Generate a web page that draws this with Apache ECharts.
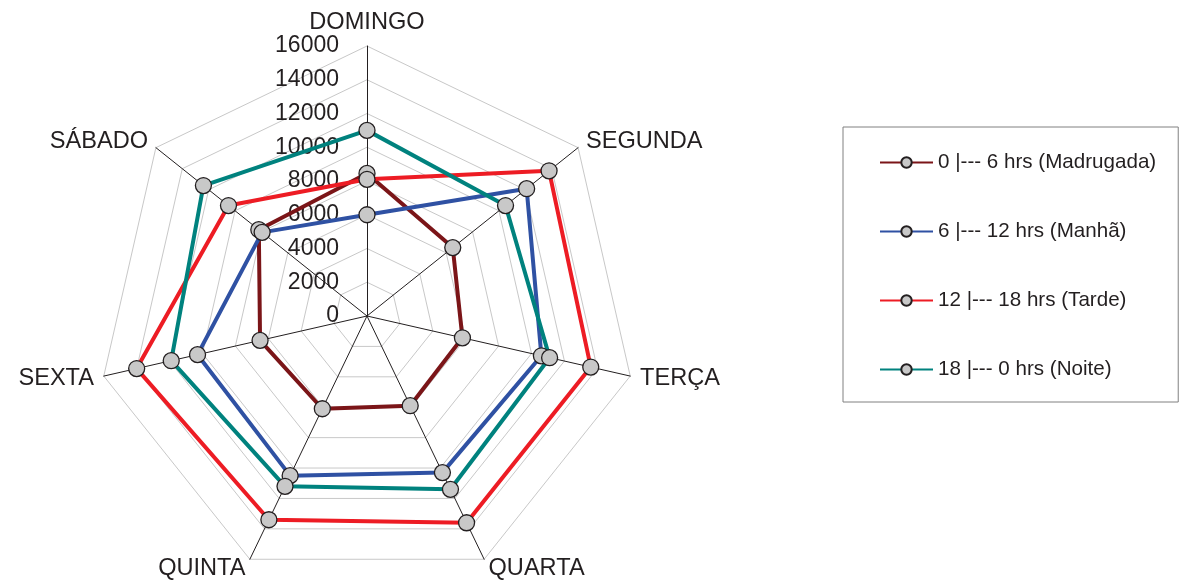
<!DOCTYPE html>
<html>
<head>
<meta charset="utf-8">
<script src="https://cdn.jsdelivr.net/npm/echarts@6/dist/echarts.min.js"></script>
<style>html,body{margin:0;padding:0;background:#fff;}#c{width:1187px;height:583px;}</style>
</head>
<body>
<div id="c"></div>
<script>
const days = ['DOMINGO', 'SEGUNDA', 'TERÇA', 'QUARTA', 'QUINTA', 'SEXTA', 'SÁBADO'];
const seriesNames = ['0 |--- 6 hrs (Madrugada)', '6 |--- 12 hrs (Manhã)', '12 |--- 18 hrs (Tarde)', '18 |--- 0 hrs (Noite)'];
const madrugada = [8450, 6500, 5800, 5900, 6100, 6500, 8200];
const manha = [6000, 12100, 10600, 10300, 10500, 10300, 7950];
const tarde = [8100, 13800, 13600, 13600, 13400, 14000, 10500];
const noite = [11000, 10500, 11100, 11400, 11200, 11900, 12400];
const axisMax = 16000;
const colors = ['#7b1518', '#2f51a3', '#ed1c24', '#00827e'];
const FONT = '"Liberation Sans", Arial, sans-serif';
const TXT = '#231f20';

const values = [madrugada, manha, tarde, noite];

// ECharts radar runs counter-clockwise; reorder so days run clockwise from the top
const order = [0].concat(days.slice(1).map((d, i) => days.length - 1 - i));
const reorder = arr => order.map(k => arr[k]);

const indicator = reorder(days).map((d, i) => {
  const o = { name: d, min: 0, max: axisMax };
  if (i === 0) {
    o.axisLabel = { show: true, fontSize: 23, fontFamily: FONT, color: TXT, margin: 28,
      formatter: v => String(v) };
  }
  return o;
});

const legendSeries = seriesNames.map((n, i) => ({
  type: 'line', name: n, xAxisIndex: 0, yAxisIndex: 0, data: [],
  symbol: 'circle', symbolSize: 10,
  itemStyle: { color: '#c8c8c8', borderColor: TXT, borderWidth: 1 },
  lineStyle: { color: colors[i], width: 2.5 }
}));

const radarSeries = seriesNames.map((n, i) => ({
  type: 'radar', name: n,
  symbol: 'circle', symbolSize: 16,
  itemStyle: { color: '#c8c8c8', borderColor: TXT, borderWidth: 1.3 },
  lineStyle: { color: colors[i], width: 4 },
  emphasis: { disabled: true },
  data: [{ value: reorder(values[i]), name: n }]
}));

const chart = echarts.init(document.getElementById('c'));
chart.setOption({
  animation: false,
  backgroundColor: '#fff',
  grid: { show: false, left: 0, top: 0, width: 1, height: 1 },
  xAxis: { show: false, type: 'category', data: [] },
  yAxis: { show: false, type: 'value' },
  legend: {
    orient: 'vertical',
    left: 843, top: 127,
    padding: [25, 22, 22, 36],
    borderColor: '#808080', borderWidth: 1,
    itemWidth: 53, itemHeight: 13, itemGap: 48,
    textStyle: { fontSize: 20.6, fontFamily: FONT, color: TXT },
    data: seriesNames
  },
  radar: {
    center: [367, 316],
    radius: 270,
    startAngle: 90,
    splitNumber: 8,
    shape: 'polygon',
    indicator: indicator,
    axisName: { fontSize: 23.6, fontFamily: FONT, color: TXT },
    nameGap: 10,
    axisLine: { show: true, lineStyle: { color: TXT, width: 1 } },
    splitLine: { show: true, lineStyle: { color: '#c8c8c8', width: 1 } },
    splitArea: { show: false },
    axisTick: { show: false },
    axisLabel: { show: false }
  },
  series: legendSeries.concat(radarSeries)
});
</script>
</body>
</html>
